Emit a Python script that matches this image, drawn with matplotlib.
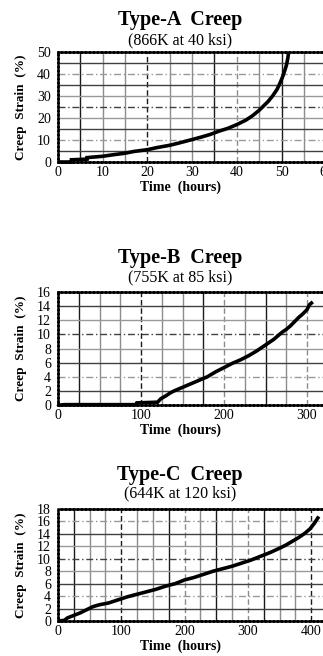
import matplotlib
matplotlib.use("Agg")
import matplotlib.pyplot as plt
import numpy as np

plt.rcParams['font.family'] = ['Liberation Serif', 'DejaVu Serif']

W = 323.0
H = 656.0

# creep curves (time in hours, strain in %)
a_time = [0, 3, 3, 6.5, 6.5, 10, 12, 15, 17, 20, 22, 25, 27, 30, 32, 34, 36, 38, 40,
          42, 43.5, 45, 46, 47, 48, 49, 49.7, 50.3, 50.8, 51.1, 51.4, 51.6]
a_strain = [0, 0, 1, 1.3, 2, 2.6, 3.2, 4, 4.8, 5.6, 6.5, 7.6, 8.6, 10.2, 11.3, 12.5, 14, 15.3, 17,
            19, 21, 23.5, 25.5, 27.5, 30, 33, 36, 39, 42, 44, 47, 50]

b_time = [0, 1, 3, 8, 40, 94, 95, 120, 124, 130, 135, 140, 150, 160, 170, 180, 190, 200, 210,
          220, 230, 240, 250, 260, 270, 275, 280, 285, 290, 295, 300, 303, 307]
b_strain = [-0.2, 0, 0, 0.05, 0.05, 0.05, 0.3, 0.4, 0.9, 1.3, 1.7, 2.0, 2.5, 3.0, 3.5, 4.0, 4.7, 5.3, 5.9,
            6.4, 7.0, 7.7, 8.5, 9.3, 10.3, 10.7, 11.2, 11.8, 12.4, 12.9, 13.5, 14.2, 14.6]

c_time = [0, 10, 15, 25, 35, 45, 55, 65, 80, 95, 110, 125, 140, 155, 170, 185, 200, 215, 230,
          245, 260, 275, 290, 305, 320, 335, 350, 360, 370, 380, 390, 398, 405, 412]
c_strain = [0, 0.1, 0.5, 0.9, 1.3, 1.8, 2.3, 2.6, 2.9, 3.4, 3.9, 4.3, 4.7, 5.1, 5.6, 6.0, 6.6, 7.0, 7.5,
            8.0, 8.4, 8.8, 9.3, 9.8, 10.4, 11.0, 11.7, 12.2, 12.8, 13.4, 14.1, 14.8, 15.7, 16.8]

titles = ["Type-A  Creep", "Type-B  Creep", "Type-C  Creep"]
subtitles = ["(866K at 40 ksi)", "(755K at 85 ksi)", "(644K at 120 ksi)"]

# per panel: data, limits, ticks, grid steps, and pixel layout
panels = [
    dict(t=a_time, s=a_strain, xmax=60, ymax=50, xt=np.arange(0, 61, 10), yt=np.arange(0, 51, 10),
         gx=5, gy=5, top=52, bot=162, title_y=20, sub_y=40, px=4.47),
    dict(t=b_time, s=b_strain, xmax=330, ymax=16, xt=np.arange(0, 301, 100), yt=np.arange(0, 17, 2),
         gx=25, gy=2, top=292, bot=405, title_y=258, sub_y=277, px=0.83),
    dict(t=c_time, s=c_strain, xmax=430, ymax=18, xt=np.arange(0, 401, 100), yt=np.arange(0, 19, 2),
         gx=25, gy=2, top=509, bot=621, title_y=475, sub_y=493, px=0.633),
]

fig = plt.figure(figsize=(W / 100, H / 100), dpi=100)

left = 58
for i, p in enumerate(panels):
    width = p['xmax'] * p['px']
    ax = fig.add_axes([left / W, 1 - p['bot'] / H, width / W, (p['bot'] - p['top']) / H])
    ax.set_xlim(0, p['xmax'])
    ax.set_ylim(0, p['ymax'])

    # grid: mix of dark and light lines, a few dashed
    for k, gx in enumerate(np.arange(p['gx'], p['xmax'], p['gx'])):
        c = '0.1' if k % 3 == 0 else '0.55'
        ls = '-' if k % 4 != 3 else (0, (4, 2))
        ax.axvline(gx, color=c, lw=1.0, ls=ls, zorder=1)
    for k, gy in enumerate(np.arange(p['gy'], p['ymax'], p['gy'])):
        c = '0.25' if k % 2 == 0 else '0.6'
        ls = '-' if k % 3 != 1 else (0, (5, 2, 1, 2))
        ax.axhline(gy, color=c, lw=1.0, ls=ls, zorder=1)

    ax.plot(p['t'], p['s'], color='black', lw=2.6, solid_joinstyle='miter',
            solid_capstyle='butt', zorder=3, clip_on=False)

    ax.set_xticks(p['xt'])
    ax.set_yticks(p['yt'])
    ax.tick_params(length=0, labelsize=10, pad=5)
    ax.tick_params(axis='x', pad=3)
    for sp in ['top', 'bottom', 'left']:
        ax.spines[sp].set_linestyle((0, (1, 0.6)))
        ax.spines[sp].set_linewidth(1.8)
    ax.spines['right'].set_visible(False)

    fig.text(180 / W, 1 - p['title_y'] / H, titles[i], ha='center', va='center',
             fontsize=14.5, fontweight='bold')
    fig.text(180 / W, 1 - p['sub_y'] / H, subtitles[i], ha='center', va='center',
             fontsize=11.5)
    fig.text(180 / W, 1 - (p['bot'] + 25) / H, "Time  (hours)", ha='center', va='center',
             fontsize=10, fontweight='bold')
    fig.text(21 / W, 1 - (p['top'] + p['bot']) / 2 / H, "Creep  Strain  (%)", ha='center',
             va='center', rotation=90, fontsize=9.5, fontweight='bold')

fig.savefig("out.png", dpi=100)
